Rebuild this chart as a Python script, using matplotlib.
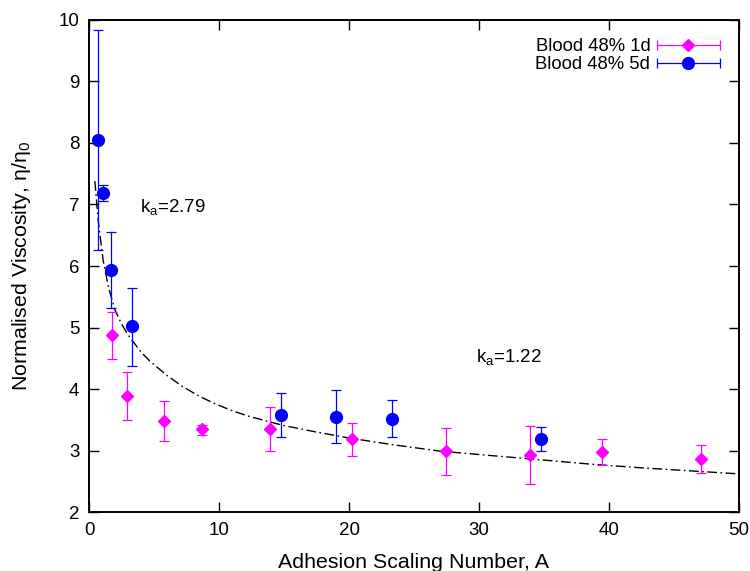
import numpy as np
import matplotlib
matplotlib.use("Agg")
from matplotlib import pyplot as plt
from matplotlib.container import ErrorbarContainer
from matplotlib.legend_handler import HandlerErrorbar

plt.rcParams['font.family'] = ['Liberation Sans', 'DejaVu Sans']
plt.rcParams['mathtext.default'] = 'regular'

# Blood 48% 1d (magenta diamonds)
x_1d = [1.75, 2.9, 5.77, 8.7, 13.9, 20.2, 27.5, 33.9, 39.5, 47.1]
y_1d = [4.87, 3.89, 3.48, 3.35, 3.35, 3.19, 2.99, 2.93, 2.97, 2.86]
top_1d = [5.25, 4.27, 3.81, 3.42, 3.71, 3.45, 3.37, 3.40, 3.19, 3.09]
bot_1d = [4.49, 3.50, 3.15, 3.26, 3.00, 2.91, 2.60, 2.45, 2.76, 2.64]

# Blood 48% 5d (blue circles)
x_5d = [0.69, 1.08, 1.69, 3.3, 14.8, 19.0, 23.3, 34.8]
y_5d = [8.05, 7.19, 5.94, 5.02, 3.58, 3.55, 3.52, 3.18]
top_5d = [9.84, 7.32, 6.56, 5.65, 3.94, 3.98, 3.82, 3.38]
bot_5d = [6.26, 7.06, 5.32, 4.38, 3.22, 3.13, 3.22, 3.00]

# fitted curve
x_fit = [0.45, 0.7, 1.08, 1.5, 2.0, 2.5, 3.0, 4.0, 4.7, 6.0, 7.2, 8.5, 9.8,
         11.1, 12.4, 14.9, 17.5, 20.1, 23.5, 27.0, 30.8, 34.7, 38.5, 42.4,
         46.2, 50.0]
y_fit = [7.38, 6.75, 6.10, 5.65, 5.28, 5.06, 4.88, 4.60, 4.45, 4.22, 4.04,
         3.88, 3.75, 3.64, 3.55, 3.41, 3.30, 3.20, 3.09, 2.99, 2.92, 2.85,
         2.78, 2.72, 2.67, 2.62]

MAGENTA = '#ff00ff'
BLUE = '#0000ff'

fig = plt.figure(figsize=(7.5, 5.71), dpi=100)
ax = fig.add_axes([0.1187, 0.1033, 0.8666, 0.8617])

err_1d = [np.subtract(y_1d, bot_1d), np.subtract(top_1d, y_1d)]
err_5d = [np.subtract(y_5d, bot_5d), np.subtract(top_5d, y_5d)]

ax.plot(x_fit, y_fit, color='black', lw=1.0, linestyle=(0, (7, 2.5, 1.2, 2.5)))
ax.errorbar(x_1d, y_1d, yerr=err_1d, fmt='D', color=MAGENTA, ms=6.5,
            elinewidth=0.9, capsize=3.5, capthick=0.9, zorder=3)
ax.errorbar(x_5d, y_5d, yerr=err_5d, fmt='o', color=BLUE, ms=8.5,
            elinewidth=0.9, capsize=3.5, capthick=0.9, zorder=4)

# legend proxies with horizontal error bars, gnuplot style
h1 = ax.errorbar([np.nan], [np.nan], xerr=[1], fmt='D', color=MAGENTA, ms=6.5,
                 elinewidth=0.9, capsize=3.5, capthick=0.9)
h2 = ax.errorbar([np.nan], [np.nan], xerr=[1], fmt='o', color=BLUE, ms=8.5,
                 elinewidth=0.9, capsize=3.5, capthick=0.9)
ax.legend([h1, h2], ['Blood 48% 1d', 'Blood 48% 5d'], loc='upper right',
          frameon=False, markerfirst=False, fontsize=13.3, handlelength=3.5,
          handletextpad=0.3, labelspacing=0.05, borderaxespad=0.6,
          handler_map={ErrorbarContainer: HandlerErrorbar(xerr_size=1.7)})

ax.text(3.9, 6.96, 'k$_a$=2.79', fontsize=13.5, va='center', ha='left')
ax.text(29.8, 4.52, 'k$_a$=1.22', fontsize=13.5, va='center', ha='left')

ax.set_xlim(0, 50)
ax.set_ylim(2, 10)
ax.set_xticks(np.arange(0, 51, 10))
ax.set_yticks(np.arange(2, 11, 1))
ax.tick_params(direction='in', top=True, right=True, length=7, width=1.0,
               labelsize=13.5, pad=7)
for sp in ax.spines.values():
    sp.set_linewidth(1.4)

ax.set_xlabel('Adhesion Scaling Number, A', fontsize=15.4, labelpad=10)
ax.set_ylabel('Normalised Viscosity, \u03b7/\u03b7$_0$', fontsize=15.4, labelpad=18)

fig.savefig('out.png', dpi=100)
